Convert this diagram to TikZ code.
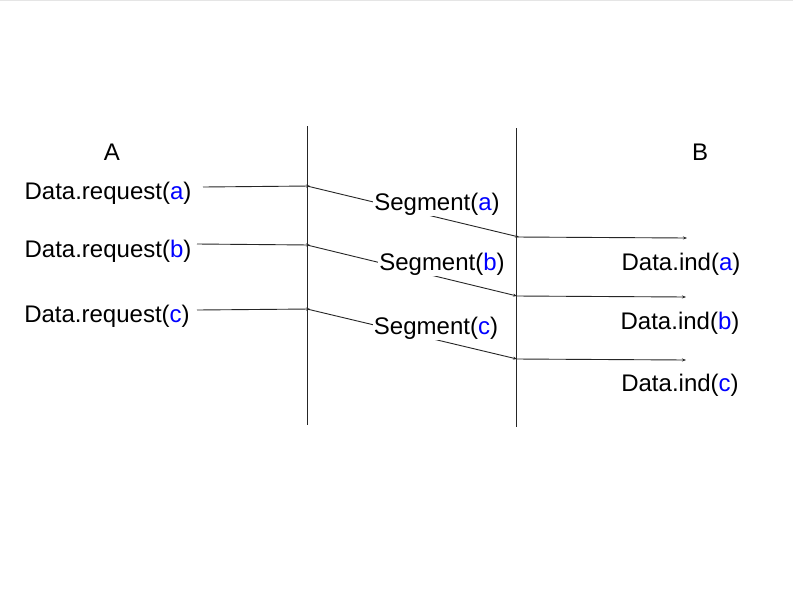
\documentclass[tikz,border=0pt]{standalone}
\usepackage{fontspec}
\setmainfont{Liberation Sans}
\usetikzlibrary{arrows.meta}
\definecolor{lblue}{RGB}{0,0,255}
\begin{document}
\begin{tikzpicture}[x=1pt,y=-1pt,
  lbl/.style={font=\fontsize{24}{28}\selectfont, inner sep=0pt},
  seglbl/.style={lbl, fill=white, inner sep=1pt},
  lifeline/.style={line width=0.9pt, draw=black!85},
  msg/.style={line width=0.9pt, draw=black!85, -{Stealth[length=4pt,width=3pt]}}]
\useasboundingbox (0,0) rectangle (793,595);
\fill[white] (0,0) rectangle (793,595);
\draw[black!10, line width=0.6pt] (0,0.5) -- (793,0.5);
% lifelines
\coordinate (l1t) at (307,126); \coordinate (l1b) at (307,425);
\coordinate (l2t) at (516,128); \coordinate (l2b) at (516,427);
\draw[lifeline] (l1t) -- (l1b);
\draw[lifeline] (l2t) -- (l2b);
% headers
\node[lbl] (A) at (112,152) {A};
\node[lbl] (B) at (700,152) {B};
% request labels
\node[lbl] (ra) at (108,193) {Data.request(\textcolor{lblue}{a})};
\node[lbl] (rb) at (108,251) {Data.request(\textcolor{lblue}{b})};
\node[lbl] (rc) at (107,316) {Data.request(\textcolor{lblue}{c})};
% coordinates
\coordinate (sa) at (203,187); \coordinate (p1a) at (310,186);
\coordinate (sb) at (197,244); \coordinate (p1b) at (310,245);
\coordinate (sc) at (197,310); \coordinate (p1c) at (310,309);
\coordinate (q1a) at (307,186); \coordinate (p2a) at (519,237); \coordinate (ea) at (687,238);
\coordinate (q1b) at (307,245); \coordinate (p2b) at (517,296); \coordinate (eb) at (686,297);
\coordinate (q1c) at (307,309); \coordinate (p2c) at (517,359); \coordinate (ec) at (686,360);
\coordinate (q2a) at (516,237); \coordinate (q2b) at (516,296); \coordinate (q2c) at (516,359);
% request arrows
\draw[msg] (sa) -- (p1a);
\draw[msg] (sb) -- (p1b);
\draw[msg] (sc) -- (p1c);
% segment arrows
\draw[msg] (q1a) -- (p2a);
\draw[msg] (q1b) -- (p2b);
\draw[msg] (q1c) -- (p2c);
% segment labels (cover the line)
\node[seglbl] (sga) at (437,204) {Segment(\textcolor{lblue}{a})};
\node[seglbl] (sgb) at (442,264) {Segment(\textcolor{lblue}{b})};
\node[seglbl] (sgc) at (436,328) {Segment(\textcolor{lblue}{c})};
% indication arrows
\draw[msg] (q2a) -- (ea);
\draw[msg] (q2b) -- (eb);
\draw[msg] (q2c) -- (ec);
% indication labels
\node[lbl] (ia) at (681,264) {Data.ind(\textcolor{lblue}{a})};
\node[lbl] (ib) at (680,323) {Data.ind(\textcolor{lblue}{b})};
\node[lbl] (ic) at (680,385) {Data.ind(\textcolor{lblue}{c})};
\end{tikzpicture}
\end{document}
